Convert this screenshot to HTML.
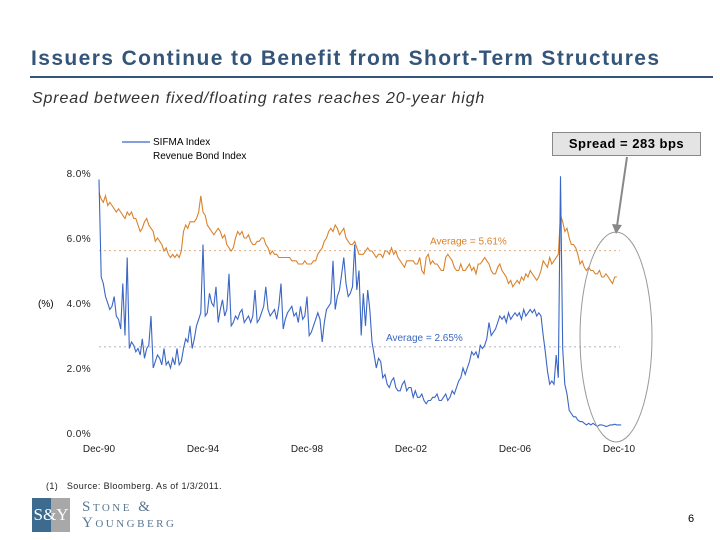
<!DOCTYPE html>
<html><head><meta charset="utf-8"><style>
body{margin:0;width:720px;height:540px;background:#fff;font-family:"Liberation Sans",sans-serif;position:relative;overflow:hidden}
.a{position:absolute;white-space:nowrap}
</style></head><body>
<div class="a" style="left:31px;top:47px;font-size:21px;font-weight:bold;color:#34557a;letter-spacing:1.4px">Issuers Continue to Benefit from Short-Term Structures</div>
<div class="a" style="left:30px;top:76px;width:683px;height:2px;background:#34557a"></div>
<div class="a" style="left:32px;top:90px;font-size:16px;font-style:italic;color:#333;letter-spacing:0.85px">Spread between fixed/floating rates reaches 20-year high</div>
<svg class="a" style="left:0;top:0" width="720" height="540" id="ch"></svg>
<div class="a" style="left:552px;top:132px;width:147px;height:22px;background:#e4e4e4;border:1.5px solid #888;font-size:13px;font-weight:bold;text-align:center;line-height:22px;letter-spacing:0.5px">Spread = 283 bps</div>
<div class="a" style="left:46px;top:481px;font-size:9px;color:#222;letter-spacing:0.4px">(1)&nbsp;&nbsp;&nbsp;Source: Bloomberg. As of 1/3/2011.</div>
<div class="a" style="left:32px;top:498px;width:38px;height:34px;background:linear-gradient(90deg,#3d6a8f 50%,#a8a8a8 50%);color:#fff;font-family:'Liberation Serif',serif;font-size:17px;line-height:34px;text-align:center">S&amp;Y</div>
<div class="a" style="left:82px;top:499px;font-family:'Liberation Serif',serif;font-size:15px;line-height:16px;letter-spacing:2.5px;color:#5a7790;font-variant:small-caps">Stone &amp;<br>Youngberg</div>
<div class="a" style="left:688px;top:513px;font-size:11px">6</div>
<script>
const yTicks=[0,2,4,6,8];
const xLabels=["Dec-90","Dec-94","Dec-98","Dec-02","Dec-06","Dec-10"];
const sifma=[7.8,
4.8,4.6,4.2,4.0,3.8,3.9,4.2,3.6,3.5,3.2,4.6,3.0,
5.4,2.6,2.8,2.7,2.5,2.6,2.4,2.9,2.3,2.6,2.7,3.6,
2.0,2.2,2.4,2.3,2.1,2.6,2.1,2.2,2.0,2.3,2.1,2.6,
2.1,2.2,2.6,2.9,2.8,3.3,2.6,2.9,3.3,3.5,3.7,5.8,
3.6,3.7,4.3,4.0,3.9,4.5,3.4,3.8,4.1,3.6,3.8,4.9,
3.3,3.4,3.6,3.5,3.7,3.8,3.4,3.5,3.6,3.4,3.6,4.4,
3.4,3.5,3.7,3.9,4.5,3.8,3.6,3.7,3.8,3.5,3.9,4.6,
3.2,3.5,3.7,3.8,3.9,3.6,3.7,3.4,3.9,3.5,3.6,4.2,
3.0,3.1,3.3,3.5,3.7,3.5,2.8,3.4,3.8,3.9,4.0,5.3,
3.8,4.2,4.4,4.9,5.4,4.6,4.2,4.3,4.5,5.8,4.4,5.0,
3.0,4.3,3.3,4.4,3.8,2.8,2.4,2.0,2.3,2.2,1.7,1.8,
1.5,1.4,1.6,1.7,1.4,1.3,1.3,1.5,1.6,1.3,1.4,1.4,
1.1,1.3,1.1,1.1,1.2,1.0,0.9,1.0,1.0,1.1,1.1,1.2,
1.0,1.0,1.1,1.2,1.0,1.1,1.3,1.2,1.4,1.6,1.7,2.0,
1.8,2.0,2.2,2.5,2.4,2.5,2.3,2.7,2.6,2.7,2.9,3.4,
3.0,3.1,3.2,3.4,3.6,3.5,3.6,3.4,3.7,3.5,3.6,3.7,
3.6,3.7,3.5,3.8,3.6,3.7,3.8,3.7,3.8,3.6,3.7,3.6,
3.0,2.5,1.9,1.5,1.6,1.5,2.4,1.7,7.9,2.6,1.5,1.2,
0.7,0.6,0.5,0.5,0.4,0.35,0.35,0.3,0.25,0.3,0.25,0.3,
0.25,0.2,0.25,0.25,0.23,0.2,0.22,0.25,0.25,0.27,0.25,0.25,
0.25];
const revenue=[7.4,
7.2,7.1,7.3,7.0,7.1,7.0,6.9,6.8,6.9,6.8,6.7,6.6,
6.8,6.7,6.8,6.6,6.6,6.4,6.2,6.3,6.5,6.6,6.4,6.3,
6.2,5.9,6.0,5.9,5.8,5.6,5.7,5.5,5.4,5.5,5.4,5.5,
5.4,5.6,6.2,6.4,6.3,6.5,6.5,6.5,6.6,6.8,7.3,6.8,
6.7,6.4,6.3,6.2,6.1,6.2,6.3,6.2,6.0,6.1,5.8,5.7,
5.6,5.7,6.0,6.2,6.1,6.2,6.0,6.0,6.1,5.9,5.8,5.8,
5.9,5.9,6.0,6.0,5.8,5.7,5.5,5.6,5.5,5.5,5.4,5.4,
5.4,5.4,5.4,5.4,5.3,5.3,5.3,5.2,5.2,5.2,5.3,5.2,
5.2,5.2,5.3,5.3,5.5,5.6,5.7,5.9,6.0,6.2,6.3,6.2,
6.4,6.3,6.1,6.2,6.3,6.0,5.9,5.8,5.8,5.9,5.7,5.5,
5.5,5.5,5.6,5.7,5.6,5.6,5.5,5.4,5.5,5.5,5.4,5.6,
5.6,5.5,5.7,5.5,5.6,5.4,5.3,5.2,5.1,5.3,5.3,5.3,
5.3,5.2,5.2,5.4,5.0,4.9,5.4,5.5,5.2,5.3,5.2,5.2,
5.1,5.0,5.0,5.4,5.5,5.4,5.3,5.1,5.0,5.0,5.2,5.0,
5.0,5.1,5.2,5.0,5.1,4.9,5.2,5.2,5.3,5.4,5.3,5.2,
5.0,4.9,4.9,5.1,5.2,5.0,4.9,4.8,4.6,4.7,4.5,4.6,
4.7,4.6,4.8,4.7,4.9,4.8,5.0,4.9,4.8,4.7,4.8,5.0,
5.3,5.2,5.1,5.4,5.2,5.3,5.4,5.5,6.7,6.5,6.2,6.3,
6.0,5.8,5.8,5.7,5.5,5.2,5.3,5.1,5.0,5.1,5.0,5.0,
4.9,4.9,5.0,4.8,4.8,4.9,4.8,4.7,4.6,4.8,4.8,null,
5.6];
const averages=[5.61,2.65];
const svg=document.getElementById('ch');
const NS='http://www.w3.org/2000/svg';
const X=i=>99+i*(520/240);
const Y=v=>433-v*32.5;
function mk(t,a){const e=document.createElementNS(NS,t);for(const k in a)e.setAttribute(k,a[k]);svg.appendChild(e);return e;}
yTicks.forEach(v=>{const t=mk('text',{x:91,y:Y(v)+4,'text-anchor':'end','font-size':10,fill:'#222','letter-spacing':0.4});t.textContent=v.toFixed(1)+'%';

});
xLabels.forEach((s,i)=>{const t=mk('text',{x:X(i*48),y:452,'text-anchor':'middle','font-size':10,fill:'#222'});t.textContent=s;

});
const yt=mk('text',{x:38,y:307,'font-size':10});yt.textContent='(%)';


averages.forEach((a,i)=>{const l=mk('line',{x1:99,x2:620,y1:Y(a),y2:Y(a),stroke:i?'#99a':'#d9a070','stroke-width':0.8,'stroke-dasharray':'2,3'});

});
function path(arr,c,name){let d='',pen=false;arr.forEach((v,i)=>{if(v===null){pen=false;return;}d+=(pen?'L':'M')+X(i).toFixed(1)+','+Y(v).toFixed(1);pen=true;});
const p=mk('path',{d:d,fill:'none',stroke:c,'stroke-width':1.1});

}
path(revenue,'#d9822b','revenue-bond-line');
path(sifma,'#3a66c4','sifma-line');
const a1=mk('text',{x:430,y:Y(averages[0])-6,'font-size':10,fill:'#d9822b'});a1.textContent='Average = '+averages[0].toFixed(2)+'%';


const a2=mk('text',{x:386,y:Y(averages[1])-6,'font-size':10,fill:'#3a66c4'});a2.textContent='Average = '+averages[1].toFixed(2)+'%';


const lg=mk('line',{x1:122,x2:150,y1:142,y2:142,stroke:'#3a66c4','stroke-width':1.2});


const l1=mk('text',{x:153,y:145,'font-size':10});l1.textContent='SIFMA Index';


const l2=mk('text',{x:153,y:159,'font-size':10});l2.textContent='Revenue Bond Index';


const el=mk('ellipse',{cx:616,cy:337,rx:36,ry:105,fill:'none',stroke:'#999','stroke-width':1});


const ar=mk('line',{x1:627,y1:157,x2:617,y2:226,stroke:'#888','stroke-width':2});


const ah=mk('polygon',{points:'612,224 622,225 616,234',fill:'#888'});


</script>
</body></html>
